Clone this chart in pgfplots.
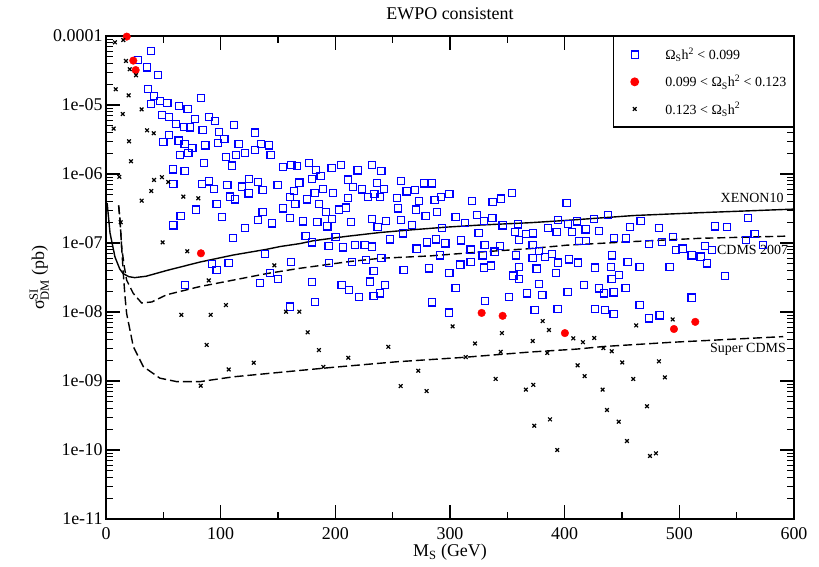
\documentclass[border=0pt]{standalone}
\usepackage{pgfplots}
\pgfplotsset{compat=1.18}
\usepackage{fontspec}
\setmainfont{Liberation Serif}
\usepackage{amsmath}
\begin{document}
\begin{tikzpicture}
\begin{axis}[
  scale only axis, width=688bp, height=483bp,
  xmin=0, xmax=600, ymin=1e-11, ymax=1e-4, ymode=log,
  clip=false,
  axis line style={line width=1.3bp},
  tick style={line width=1.1bp, black},
  tick align=inside, tick pos=both,
  major tick length=14bp, minor tick length=7bp,
  xtick={0,100,200,300,400,500,600},
  xticklabels={0,100,200,300,400,500,600},
  minor xtick={50,150,250,350,450,550},
  ytick={1e-11,1e-10,1e-9,1e-8,1e-7,1e-6,1e-5,1e-4},
  yticklabels={1e-11,1e-10,1e-09,1e-08,1e-07,1e-06,1e-05,0.0001},
  minor ytick={2e-11,3e-11,4e-11,5e-11,6e-11,7e-11,8e-11,9e-11,
               2e-10,3e-10,4e-10,5e-10,6e-10,7e-10,8e-10,9e-10,
               2e-9,3e-9,4e-9,5e-9,6e-9,7e-9,8e-9,9e-9,
               2e-8,3e-8,4e-8,5e-8,6e-8,7e-8,8e-8,9e-8,
               2e-7,3e-7,4e-7,5e-7,6e-7,7e-7,8e-7,9e-7,
               2e-6,3e-6,4e-6,5e-6,6e-6,7e-6,8e-6,9e-6,
               2e-5,3e-5,4e-5,5e-5,6e-5,7e-5,8e-5,9e-5},
  ticklabel style={font=\fontsize{18}{20}\selectfont},
  xticklabel style={yshift=-5bp},
  title={EWPO consistent},
  title style={at={(axis description cs:0.5,1.033)}, anchor=center, font=\fontsize{18}{20}\selectfont},
  xlabel={M$_{\text{S}}$ (GeV)},
  xlabel style={at={(axis description cs:0.5,-0.069)}, anchor=center, font=\fontsize{18}{20}\selectfont},
  ylabel={σ$^{\text{SI}}_{\text{DM}}$ (pb)},
  ylabel style={at={(axis description cs:-0.097,0.5)}, anchor=center, font=\fontsize{18}{20}\selectfont},
  legend style={at={(1,1)}, anchor=north east, draw=black, line width=1.2bp,
    font=\fontsize{14}{16}\selectfont, inner xsep=5bp, inner ysep=9.5bp, row sep=10bp,
    column sep=0bp},
  legend image code/.code={\path (0bp,0bp) (44bp,0bp); \draw[#1] plot coordinates {(16bp,0bp)};},
  legend cell align=left,
]
% XENON10
\addplot[forget plot, black, line width=1.4bp] coordinates {
(1,3.8e-7) (3.5,1.4e-7) (7.8,6.3e-8) (12,4.2e-8) (15,3.6e-8) (20,3.25e-8) (25,3.15e-8) (35,3.3e-8) (53,4.0e-8) (82,5.3e-8) (111,6.7e-8) (140,8.1e-8) (152,8.9e-8) (169,9.8e-8) (181,1.08e-7) (210,1.25e-7) (239,1.42e-7) (268,1.56e-7) (297,1.7e-7) (326,1.82e-7) (370,1.97e-7) (402,2.13e-7) (460,2.5e-7) (518,2.75e-7) (600,3.1e-7)};
% CDMS 2007
\addplot[forget plot, black, line width=1.4bp, dash pattern=on 8bp off 4bp] coordinates {
(11,3.5e-7) (12.2,2.2e-7) (13.6,8.9e-8) (16,4.5e-8) (18,2.9e-8) (23.8,1.86e-8) (31.1,1.35e-8) (40,1.4e-8) (52.9,1.78e-8) (82,2.34e-8) (111,2.9e-8) (140,3.6e-8) (169,4.3e-8) (212.8,5.4e-8) (239,6.0e-8) (282.5,6.5e-8) (326,7.4e-8) (370,8.3e-8) (401.7,9.3e-8) (460,1.05e-7) (518,1.17e-7) (595,1.26e-7)};
% Super CDMS
\addplot[forget plot, black, line width=1.4bp, dash pattern=on 9bp off 4bp] coordinates {
(11,3.5e-7) (12.2,2.2e-7) (13.6,8.9e-8) (15.1,3.6e-8) (16.6,1.66e-8) (18,9.5e-9) (23.8,3.16e-9) (32.5,1.62e-9) (47,1.1e-9) (61.6,9.8e-10) (82,9.8e-10) (111,1.15e-9) (154.6,1.35e-9) (198,1.58e-9) (253.5,1.9e-9) (311.6,2.2e-9) (369.7,2.63e-9) (410.4,2.9e-9) (433.7,3.16e-9) (491.8,3.63e-9) (590.6,4.4e-9)};
% Omega h^2 < 0.099
\addplot[only marks, color=blue, mark=square, mark size=3.6bp, mark options={line width=1.2bp, fill=none}] coordinates {
(27.9,4.5e-5) (39.0,6.1e-5) (35.5,3.5e-5) (45.6,2.7e-5) (36.6,1.7e-5) (42.1,1.35e-5) (47.3,1.15e-5) (53.5,1.06e-5) (39.2,1.03e-5) (83.1,1.26e-5)
(63.9,9.7e-6) (71.2,8.75e-6) (48.8,7.1e-6) (54.7,6.7e-6) (60.8,5.35e-6) (77.6,6.27e-6) (89.8,6.7e-6) (95.0,5.9e-6) (68.0,4.8e-6) (73.2,4.75e-6)
(84.3,4.35e-6) (111.4,5.13e-6) (54.9,3.65e-6) (50.0,2.9e-6) (63.4,3.04e-6) (68.6,2.7e-6) (75.3,2.4e-6) (86.6,2.6e-6) (97.9,2.8e-6) (98.5,4.1e-6)
(103.2,3.21e-6) (115.7,2.7e-6) (129.7,3.97e-6) (135.4,2.7e-6) (142.4,2.6e-6) (129.9,2.25e-6) (64.5,1.88e-6) (71.8,2.0e-6) (104.4,1.78e-6) (113.4,1.88e-6)
(121.2,2.01e-6) (143.6,1.88e-6) (85.5,1.44e-6) (109.9,1.32e-6) (154.1,1.27e-6) (161.6,1.36e-6) (166.8,1.3e-6) (58.2,1.17e-6) (68.6,1.11e-6) (58.7,7.2e-7)
(83.7,7.2e-7) (89.8,7.8e-7) (94.4,6.06e-7) (105.8,6.9e-7) (118.6,6.55e-7) (124.7,8.4e-7) (132.8,7.6e-7) (136.6,5.86e-7) (149.7,7.0e-7) (124.4,5.25e-7)
(107.9,4.7e-7) (112.7,4.3e-7) (163.9,5.7e-7) (160.4,4.6e-7) (168.6,7.5e-7)
(176.8,1.43e-6) (183.1,1.14e-6) (196.8,1.23e-6) (204.7,1.35e-6) (219.5,1.13e-6) (232.2,1.34e-6) (240.1,1.10e-6) (211.0,8.3e-7) (179.9,8.5e-7) (187.2,9.3e-7)
(236.1,7.4e-7) (257.5,7.9e-7) (277.6,7.3e-7) (284.5,7.3e-7) (189.5,6.1e-7) (182.0,5.35e-7) (197.9,5.35e-7) (215.6,6.5e-7) (223.0,6.0e-7) (234.0,5.13e-7)
(242.4,6.06e-7) (228.7,4.6e-7) (238.9,4.65e-7) (262.2,5.6e-7) (269.7,5.86e-7) (175.3,4.3e-7) (165.1,3.65e-7) (185.7,3.65e-7) (210.8,4.49e-7) (253.8,4.49e-7)
(273.2,4.1e-7) (286.6,4.2e-7) (291.9,4.6e-7) (299.4,5.13e-7) (319.2,4.1e-7) (337.2,3.93e-7) (344.7,4.4e-7) (354.0,5.35e-7) (154.1,3.18e-7) (191.8,2.81e-7)
(203.4,3.04e-7) (209.3,3.25e-7) (254.4,3.18e-7) (270.3,3.04e-7) (288.9,2.84e-7) (160.4,2.3e-7) (171.8,2.05e-7) (184.3,2.01e-7) (197.3,2.25e-7) (193.0,1.74e-7)
(213.4,2.01e-7) (232.2,2.25e-7) (244.2,2.1e-7) (236.9,1.7e-7) (257.2,2.15e-7) (266.8,1.84e-7) (278.8,2.44e-7) (304.9,2.36e-7) (313.0,1.96e-7) (293.0,1.66e-7)
(323.8,2.57e-7) (329.9,2.1e-7) (336.9,2.3e-7) (345.9,1.8e-7) (359.5,1.86e-7) (356.6,1.44e-7) (366.2,1.36e-7) (174.1,1.27e-7) (179.4,1.02e-7) (200.3,1.22e-7)
(247.9,1.13e-7) (259.2,1.38e-7) (325.0,1.4e-7) (194.2,9.0e-8) (206.9,8.65e-8) (216.9,9.45e-8) (225.6,9.45e-8) (232.2,8.85e-8) (270.9,8.3e-8) (279.9,1.02e-7)
(287.8,1.13e-7) (295.9,9.9e-8) (309.6,1.09e-7) (330.2,9.3e-8) (343.6,9.0e-8) (360.4,1.1e-7) (318.0,8.0e-8) (338.9,7.5e-8) (328.5,6.6e-8) (291.2,6.6e-8)
(357.3,6.6e-8) (161.1,5.3e-8) (194.5,5.13e-8) (214.5,5.3e-8) (226.5,5.67e-8) (240.1,6.1e-8) (233.4,3.93e-8) (259.6,4.05e-8) (281.7,4.3e-8) (299.4,3.65e-8)
(309.0,4.85e-8) (318.0,5.3e-8) (329.9,4.4e-8) (335.7,4.7e-8) (360.4,4.49e-8) (355.2,3.36e-8) (360.4,3.0e-8) (179.4,2.7e-8) (205.5,2.44e-8) (211.9,2.08e-8)
(230.2,2.75e-8) (243.5,2.44e-8) (220.6,1.66e-8) (238.9,1.86e-8) (233.4,1.72e-8) (304.9,2.25e-8) (351.4,1.66e-8) (367.4,1.86e-8)
(401.7,3.8e-7) (372.6,1.38e-7) (385.2,1.65e-7) (394.4,2.15e-7) (393.0,1.43e-7) (402.9,1.88e-7) (406.6,1.43e-7) (411.0,2.05e-7) (418.3,1.58e-7) (425.5,2.25e-7)
(429.9,1.5e-7) (438.0,2.57e-7) (457.2,1.72e-7) (466.3,2.1e-7) (482.5,1.65e-7) (531.0,1.74e-7) (541.5,1.72e-7) (560.1,2.3e-7) (565.7,1.34e-7) (558.1,1.1e-7)
(573.2,9.36e-8) (372.1,9.36e-8) (377.8,7.7e-8) (412.5,1.08e-7) (418.6,1.07e-7) (443.2,1.19e-7) (453.7,1.17e-7) (473.8,9.7e-8) (484.8,1.04e-7) (494.7,1.22e-7)
(497.0,7.9e-8) (502.9,8.3e-8) (522.6,9.1e-8) (528.7,7.9e-8) (372.1,6.1e-8) (382.8,6.27e-8) (389.2,6.9e-8) (394.4,5.2e-8) (404.0,5.8e-8) (411.8,5.2e-8)
(441.2,6.6e-8) (454.9,5.35e-8) (510.7,6.6e-8) (518.6,6.35e-8) (524.3,5.08e-8) (375.6,4.25e-8) (392.4,3.7e-8) (426.7,4.4e-8) (440.4,4.45e-8) (465.4,4.45e-8)
(491.5,4.45e-8) (416.6,2.44e-8) (429.9,2.2e-8) (434.5,1.86e-8) (441.0,2.98e-8) (447.6,3.44e-8) (442.7,1.93e-8) (453.2,2.25e-8) (540.0,3.3e-8) (510.7,1.62e-8)
(426.7,1.1e-8) (435.1,1.06e-8) (442.7,9.3e-9) (465.4,1.26e-8) (473.5,8.1e-9) (482.8,8.95e-9)
(284.5,1.38e-8) (299.1,9.8e-9) (330.5,1.44e-8) (377.8,2.55e-8) (380.5,1.78e-8) (402.6,1.95e-8) (373.8,1.07e-8) (393.9,1.11e-8)
(96.5,3.65e-7) (78.7,3.04e-7) (65.1,2.48e-7) (58.7,1.8e-7) (100.9,2.38e-7) (121.2,1.65e-7) (132.8,2.17e-7) (136.6,2.84e-7) (144.8,1.93e-7) (110.5,1.19e-7)
(138.4,7.0e-8) (92.2,4.95e-8) (96.5,4.05e-8) (107.0,5.13e-8) (143.0,3.65e-8) (150.2,3.0e-8) (134.3,2.65e-8) (69.1,2.48e-8) (160.4,1.2e-8) (182.2,1.41e-8)};
\addlegendentry{Ω$_{\text{S}}$h$^{\text{2}}$ < 0.099}
% 0.099 < Omega h^2 < 0.123
\addplot[only marks, color=red, mark=*, mark size=3.8bp] coordinates {
(18.1,9.8e-5) (23.8,4.4e-5) (25.9,3.21e-5) (82.8,7.1e-8) (327.6,9.7e-9) (345.9,8.8e-9) (400.2,4.95e-9) (495.3,5.67e-9) (513.9,7.2e-9)};
\addlegendentry{0.099 < Ω$_{\text{S}}$h$^{\text{2}}$ < 0.123}
% 0.123 < Omega h^2
\addplot[only marks, color=black, mark=x, mark size=2.6bp, mark options={line width=1.2bp}] coordinates {
(7.8,8.1e-5) (15.1,8.75e-5) (17.4,4.35e-5) (20.7,3.3e-5) (26.2,2.7e-5) (8.5,1.69e-5) (19.8,1.38e-5) (31.1,8.65e-6) (14.6,7.4e-6) (6.7,4.55e-6)
(35.8,4.3e-6) (41.6,3.9e-6) (20.1,2.98e-6) (21.8,1.53e-6) (11.6,9.1e-7) (41.9,8.2e-7) (48.8,9.0e-7) (54.3,7.66e-7) (39.5,5.67e-7) (67.4,4.7e-7)
(80.5,4.45e-7) (31.1,4.1e-7) (12.8,2.0e-7) (49.4,1.02e-7) (70.9,7.6e-8) (146.8,4.75e-8) (89.6,2.87e-8) (104.6,1.26e-8) (65.7,9.1e-9) (91.3,9.1e-9)
(157.0,1.01e-8) (168.6,1.01e-8) (175.9,5.08e-9) (87.8,3.33e-9) (185.7,2.81e-9) (128.8,1.84e-9) (107.0,1.47e-9) (189.5,1.6e-9) (82.6,8.55e-10) (211.3,2.17e-9)
(302.3,6.2e-9) (246.2,3.13e-9) (321.8,3.5e-9) (345.3,4.95e-9) (380.8,7.4e-9) (386.3,5.48e-9) (372.1,3.8e-9) (407.5,4.15e-9) (344.2,2.65e-9) (384.8,2.55e-9)
(313.7,2.22e-9) (272.3,1.41e-9) (257.0,8.45e-10) (279.6,7.16e-10) (339.8,1.07e-9) (366.2,7.5e-10) (372.6,8.8e-10) (411.3,1.69e-9) (373.5,2.25e-10) (387.2,2.78e-10)
(393.5,1.0e-10) (415.9,3.65e-9) (425.8,4.2e-9) (462.4,6.4e-9) (494.2,7.8e-9) (433.7,3.0e-9) (441.0,2.7e-9) (417.4,1.18e-9) (450.2,1.86e-9) (482.2,1.93e-9)
(459.8,1.07e-9) (487.4,1.13e-9) (433.1,7.5e-10) (436.9,3.8e-10) (471.8,4.3e-10) (447.1,2.57e-10) (454.3,1.35e-10) (474.4,8.2e-11) (479.6,8.95e-11)};
\addlegendentry{0.123 < Ω$_{\text{S}}$h$^{\text{2}}$}
\node[anchor=east, inner sep=0pt, font=\fontsize{14}{16}\selectfont] at (axis cs:591,4.49e-7) {XENON10};
\node[anchor=east, inner sep=0pt, font=\fontsize{14}{16}\selectfont] at (axis cs:595,7.9e-8) {CDMS 2007};
\node[anchor=east, inner sep=0pt, font=\fontsize{14}{16}\selectfont] at (axis cs:593,2.9e-9) {Super CDMS};
\end{axis}
\path ([shift={(-106bp,-47bp)}]current axis.south west) rectangle ([shift={(25bp,36bp)}]current axis.north east);
\end{tikzpicture}
\end{document}
